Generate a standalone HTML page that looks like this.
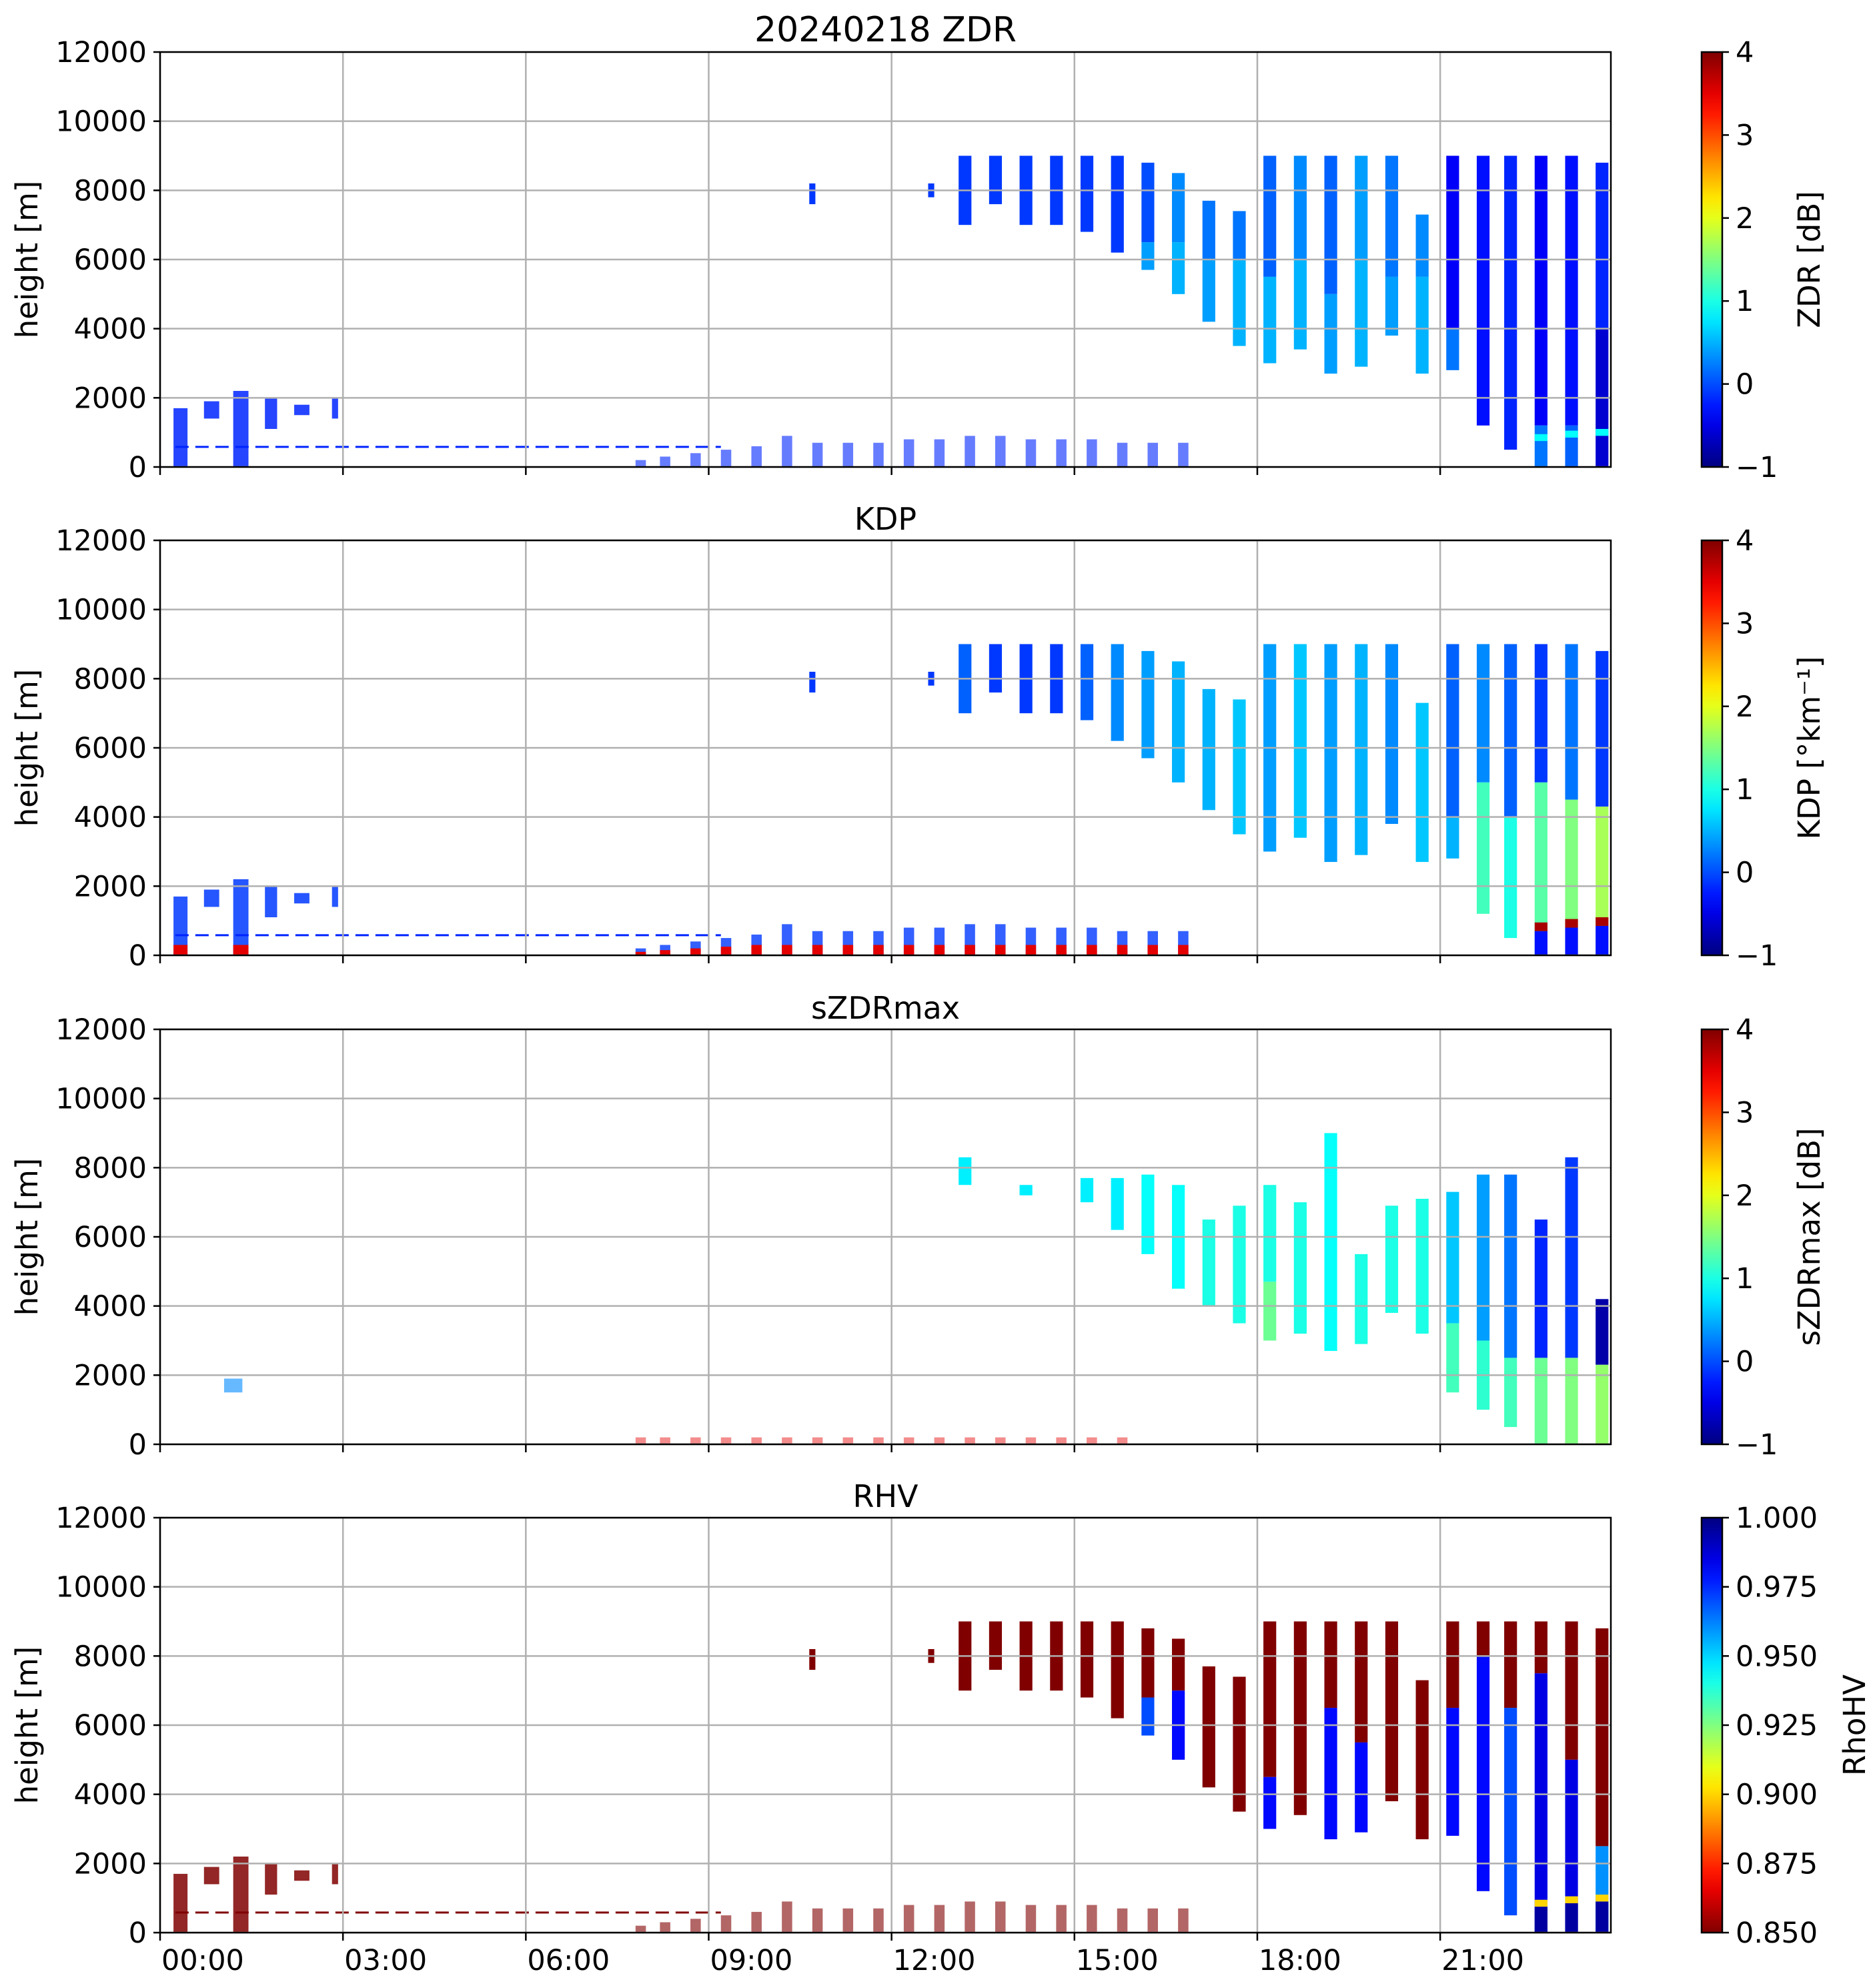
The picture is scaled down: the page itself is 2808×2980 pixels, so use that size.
<!DOCTYPE html>
<html><head><meta charset="utf-8">
<style>
html,body{margin:0;padding:0;background:#fff;}
svg{display:block;font-family:"DejaVu Sans","Liberation Sans",sans-serif;}
</style></head>
<body>
<svg id="fig" xmlns="http://www.w3.org/2000/svg" width="2808" height="2980" viewBox="0 0 2808 2980"></svg>
<script>
// ---- data (hours / metres / variable values) ----
const scanStart = [13.1,13.6,14.1,14.6,15.1,15.6,16.1,16.6,17.1,17.6,18.1,18.6,19.1,19.6,20.1,20.6,21.1,21.6,22.05,22.55,23.05,23.55];
const scanDur = 0.21;
const scanTop = [9000,9000,9000,9000,9000,9000,8800,8500,7700,7400,9000,9000,9000,9000,9000,7300,9000,9000,9000,9000,9000,8800];
const scanBottom = [7000,7600,7000,7000,6800,6200,5700,5000,4200,3500,3000,3400,2700,2900,3800,2700,2800,1200,500,0,0,0];

const zdrUpper = [-0.1,-0.1,-0.1,-0.1,-0.1,-0.1,0.0,0.3,0.2,0.2,0.1,0.3,0.1,0.4,0.2,0.3,-0.4,-0.3,-0.2,-0.4,-0.3,-0.2];
const zdrLower = [-0.1,-0.1,-0.1,-0.1,-0.1,-0.1,0.4,0.5,0.4,0.5,0.5,0.5,0.4,0.5,0.4,0.5,0.2,-0.4,-0.2,0.2,0.1,-0.6];
const zdrSplit = [0,0,0,0,0,0,6500,6500,6000,6000,5500,6000,5000,6000,5500,5500,4000,0,0,1200,1200,4000];

const kdpUpper = [0.1,-0.1,-0.1,-0.1,0.1,0.3,0.4,0.5,0.5,0.6,0.4,0.6,0.4,0.5,0.3,0.6,0.1,0.3,0.1,-0.1,0.2,-0.1];
const kdpLower = [0.1,-0.1,-0.1,-0.1,0.1,0.3,0.4,0.5,0.5,0.6,0.4,0.6,0.4,0.5,0.3,0.6,0.5,1.2,1.0,1.3,1.5,1.7];
const kdpSplit = [0,0,0,0,0,0,0,0,0,0,0,0,0,0,0,0,4000,5000,4000,5000,4500,4300];

const rhvUpper = [0.85,0.85,0.85,0.85,0.85,0.85,0.85,0.85,0.85,0.85,0.85,0.85,0.85,0.85,0.85,0.85,0.85,0.85,0.85,0.85,0.85,0.85];
const rhvLower = [0.85,0.85,0.85,0.85,0.85,0.85,0.97,0.98,0.85,0.85,0.98,0.85,0.98,0.98,0.85,0.85,0.98,0.98,0.97,0.985,0.985,0.96];
const rhvSplit = [0,0,0,0,0,0,6800,7000,0,0,4500,0,6500,5500,0,0,6500,8000,6500,7500,5000,2500];

const szdrTop = [8300,0,7500,0,7700,7700,7800,7500,6500,6900,7500,7000,9000,5500,6900,7100,7300,7800,7800,6500,8300,4200];
const szdrBottom = [7500,0,7200,0,7000,6200,5500,4500,4000,3500,3000,3200,2700,2900,3800,3200,1500,1000,500,0,0,0];
const szdrUpper = [0.8,0.8,0.8,0.8,0.8,0.8,0.9,0.9,1.0,1.0,1.0,1.0,0.9,1.0,1.0,1.0,0.6,0.4,0.2,-0.2,-0.1,-0.8];
const szdrLower = [0.8,0.8,0.8,0.8,0.8,0.8,0.9,0.9,1.0,1.0,1.4,1.0,1.0,1.0,1.0,1.1,1.2,1.1,1.2,1.4,1.5,1.6];
const szdrSplit = [0,0,0,0,0,0,0,0,0,0,4700,0,0,0,0,0,3500,3000,2500,2500,2500,2300];

// melting-layer band in last scans
const bandIdx = [19,20,21];
const bandHeight = [850,950,1000];

// early boundary-layer echoes
const blStart = [0.22,0.72,1.2,1.72,2.2,2.82];
const blEnd = [0.45,0.97,1.45,1.92,2.45,2.92];
const blTop = [1700,1900,2200,2000,1800,2000];
const blBottom = [0,1400,0,1100,1500,1400];

// low-level scans
const lowStart = [7.8,8.2,8.7,9.2,9.7,10.2,10.7,11.2,11.7,12.2,12.7,13.2,13.7,14.2,14.7,15.2,15.7,16.2,16.7];
const lowTop = [200,300,400,500,600,900,700,700,700,800,800,900,900,800,800,800,700,700,700];

// isolated patches
const patchStart = [10.65,12.6];
const patchTop = [8200,8200];
const patchBottom = [7600,7800];

const xTickHours = [0,3,6,9,12,15,18,21];
const xTickLabels = ["00:00","03:00","06:00","09:00","12:00","15:00","18:00","21:00"];
const yTicks = [0,2000,4000,6000,8000,10000,12000];

// ---- layout ----
const NS = "http://www.w3.org/2000/svg";
const svg = document.getElementById('fig');
const AX_L = 240, AX_R = 2415, AX_H = 622;
const TOPS = [78, 810, 1543, 2275];
const X_MAX = 23.8;
const CB_L = 2551, CB_W = 31;
function xs(h){ return AX_L + h*(AX_R-AX_L)/X_MAX; }
function ys(p,m){ return TOPS[p] + AX_H*(1 - m/12000); }
function clip(v){ return Math.max(0, Math.min(1, v)); }
function jet(x){
  x = clip(x);
  const r = clip(1.5 - Math.abs(4*x-3)), g = clip(1.5 - Math.abs(4*x-2)), b = clip(1.5 - Math.abs(4*x-1));
  return 'rgb(' + Math.round(r*255) + ',' + Math.round(g*255) + ',' + Math.round(b*255) + ')';
}
const norms = [
  v => jet((v+1)/5),
  v => jet((v+1)/5),
  v => jet((v+1)/5),
  v => jet(1 - (v-0.85)/0.15)
];
function el(tag, attrs, parent){
  const e = document.createElementNS(NS, tag);
  for (const k in attrs) e.setAttribute(k, attrs[k]);
  (parent||svg).appendChild(e);
  return e;
}
function rect(p, t0, t1, m0, m1, fill, name, g, op){
  if (m1 <= m0) return;
  const x0 = xs(t0), x1 = Math.min(xs(t1), AX_R);
  const e = el('rect', {x:x0, y:ys(p,m1), width:Math.max(1,x1-x0), height:ys(p,m0)-ys(p,m1), fill:fill, 'fill-opacity': op===undefined?1:op}, g);
  
  
}

const panelTitles = ["20240218 ZDR","KDP","sZDRmax","RHV"];
const cbLabels = ["ZDR [dB]","KDP [°km⁻¹]","sZDRmax [dB]","RhoHV"];
const cbTicks = [[-1,0,1,2,3,4],[-1,0,1,2,3,4],[-1,0,1,2,3,4],[0.85,0.875,0.9,0.925,0.95,0.975,1.0]];

for (let p=0; p<4; p++){
  const g = el('g', {});
  
  
  const col = norms[p];
  const top = TOPS[p];

  if (p !== 2){
    const blVal = p===3 ? 0.85 : (p===1 ? -0.1 : -0.2);
    for (let i=0;i<blStart.length;i++){
      rect(p, blStart[i], blEnd[i], blBottom[i], blTop[i], col(blVal), 'bl-echo', g, 0.85);
      if (p===1 && blBottom[i]===0) rect(p, blStart[i], blEnd[i], 0, 300, col(3.5), 'bl-kdp-low', g);
    }
    const ln = el('line', {x1:xs(0.25), x2:xs(9.2), y1:ys(p,580), y2:ys(p,580), stroke: col(p===3?0.85:-0.2), 'stroke-width':3, 'stroke-dasharray':'20 10'}, g);
    
    
  } else {
    rect(p, 1.05, 1.35, 1500, 1900, col(0.3), 'bl-echo', g, 0.6);
  }

  for (let i=0;i<lowStart.length;i++){
    if (p===0) rect(p, lowStart[i], lowStart[i]+0.17, 0, lowTop[i], col(-0.2), 'low-scan', g, 0.6);
    if (p===1){ rect(p, lowStart[i], lowStart[i]+0.17, 0, lowTop[i], col(-0.1), 'low-scan', g, 0.8);
                rect(p, lowStart[i], lowStart[i]+0.17, 0, Math.min(300,lowTop[i]*0.5), col(3.5), 'low-scan-red', g); }
    if (p===2 && lowStart[i] < 16) rect(p, lowStart[i], lowStart[i]+0.17, 0, 200, col(3.5), 'low-scan', g, 0.45);
    if (p===3) rect(p, lowStart[i], lowStart[i]+0.17, 0, lowTop[i], col(0.85), 'low-scan', g, 0.6);
  }

  if (p !== 2){
    for (let i=0;i<patchStart.length;i++){
      rect(p, patchStart[i], patchStart[i]+0.1, patchBottom[i], patchTop[i], col(p===3?0.85:-0.1), 'patch', g);
    }
  }

  for (let i=0;i<scanStart.length;i++){
    let tp, bt, up, lo, sp;
    if (p===0){ tp=scanTop[i]; bt=scanBottom[i]; up=zdrUpper[i]; lo=zdrLower[i]; sp=zdrSplit[i]; }
    if (p===1){ tp=scanTop[i]; bt=scanBottom[i]; up=kdpUpper[i]; lo=kdpLower[i]; sp=kdpSplit[i]; }
    if (p===2){ tp=szdrTop[i]; bt=szdrBottom[i]; up=szdrUpper[i]; lo=szdrLower[i]; sp=szdrSplit[i]; }
    if (p===3){ tp=scanTop[i]; bt=scanBottom[i]; up=rhvUpper[i]; lo=rhvLower[i]; sp=rhvSplit[i]; }
    const t0 = scanStart[i], t1 = scanStart[i] + scanDur;
    const s = Math.max(bt, Math.min(sp, tp));
    rect(p, t0, t1, s, tp, col(up), 'scan-upper', g);
    rect(p, t0, t1, bt, s, col(lo), 'scan-lower', g);
  }
  for (let k=0;k<bandIdx.length;k++){
    const i = bandIdx[k];
    const t0 = scanStart[i], t1 = scanStart[i] + scanDur, h = bandHeight[k];
    if (p===0){ rect(p, t0, t1, h-100, h+100, col(0.9), 'melting-band', g); }
    if (p===1){ rect(p, t0, t1, 0, h-150, col(-0.3), 'below-band', g); rect(p, t0, t1, h-150, h+100, col(3.8), 'melting-band', g); }
    if (p===3){ rect(p, t0, t1, 0, h-100, col(0.995), 'below-band', g); rect(p, t0, t1, h-100, h+100, col(0.9), 'melting-band', g); }
  }

  for (const yt of yTicks){
    const gl = el('line', {x1:AX_L, x2:AX_R, y1:ys(p,yt), y2:ys(p,yt), stroke:'#b0b0b0', 'stroke-width':2.5});
    
    
  }
  for (const xt of xTickHours){
    const gl = el('line', {x1:xs(xt), x2:xs(xt), y1:top, y2:top+AX_H, stroke:'#b0b0b0', 'stroke-width':2.5});
    
    
  }
  const sp = el('rect', {x:AX_L, y:top, width:AX_R-AX_L, height:AX_H, fill:'none', stroke:'#000', 'stroke-width':2.5});
  
  
  for (const yt of yTicks){
    const tk = el('line', {x1:AX_L-10, x2:AX_L, y1:ys(p,yt), y2:ys(p,yt), stroke:'#000', 'stroke-width':2.5});
    
    
    const tl = el('text', {x:AX_L-20, y:ys(p,yt)+15, 'text-anchor':'end', 'font-size':43, fill:'#000'});
    tl.textContent = String(yt);
    
    
  }
  for (let i=0;i<xTickHours.length;i++){
    const tk = el('line', {x1:xs(xTickHours[i]), x2:xs(xTickHours[i]), y1:top+AX_H, y2:top+AX_H+12, stroke:'#000', 'stroke-width':2.5});
    
    
    if (p===3){
      const tl = el('text', {x:xs(xTickHours[i])+2, y:top+AX_H+56, 'text-anchor':'start', 'font-size':43, fill:'#000'});
      tl.textContent = xTickLabels[i];
      
      
    }
  }
  const yl = el('text', {x:0, y:0, 'text-anchor':'middle', 'font-size':45, fill:'#000', transform:'translate(56,'+(top+AX_H/2)+') rotate(-90)'});
  yl.textContent = 'height [m]';
  
  
  const tt = el('text', {x:(AX_L+AX_R)/2, y:top-16, 'text-anchor':'middle', 'font-size':p===0?52:46, fill:'#000'});
  tt.textContent = panelTitles[p];
  
  

  const gid = 'cbg' + p;
  const defs = el('defs', {});
  const lg = el('linearGradient', {id:gid, x1:0, y1:1, x2:0, y2:0}, defs);
  for (let k=0;k<=20;k++){
    const f = k/20;
    const c = p===3 ? jet(1-f) : jet(f);
    el('stop', {offset:f, 'stop-color':c}, lg);
  }
  const cb = el('rect', {x:CB_L, y:top, width:CB_W, height:AX_H, fill:'url(#'+gid+')', stroke:'#000', 'stroke-width':2.5});
  
  
  const ticks = cbTicks[p];
  const lo = ticks[0], hi = ticks[ticks.length-1];
  for (const v of ticks){
    const yy = top + AX_H*(1-(v-lo)/(hi-lo));
    const tk = el('line', {x1:CB_L+CB_W, x2:CB_L+CB_W+10, y1:yy, y2:yy, stroke:'#000', 'stroke-width':2.5});
    
    
    const tl = el('text', {x:CB_L+CB_W+20, y:yy+15, 'text-anchor':'start', 'font-size':43, fill:'#000'});
    tl.textContent = p===3 ? v.toFixed(3) : (v<0 ? '−'+Math.abs(v) : String(v));
    
    
  }
  const cx = p===3 ? 2780 : 2712;
  const cl = el('text', {x:0, y:0, 'text-anchor':'middle', 'font-size':45, fill:'#000', transform:'translate('+(cx+16)+','+(top+AX_H/2)+') rotate(-90)'});
  cl.textContent = cbLabels[p];
  
  
}
</script>
</body></html>
